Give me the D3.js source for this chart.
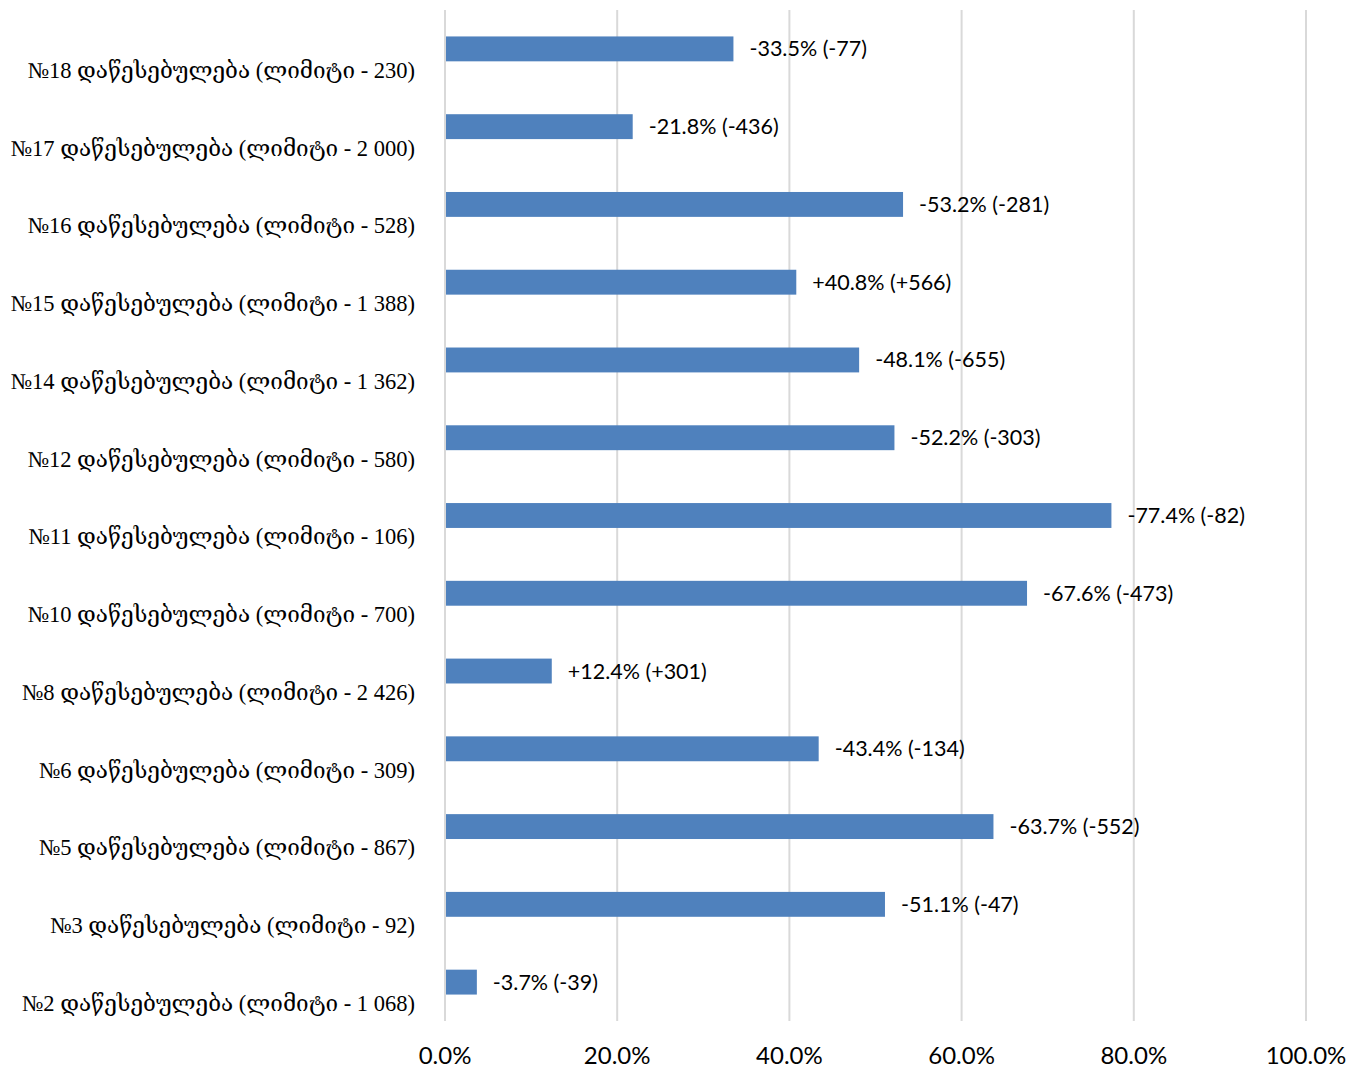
<!DOCTYPE html>
<html><head><meta charset="utf-8">
<script src="https://cdn.jsdelivr.net/npm/d3@7"></script>
<style>body{margin:0;background:#fff}</style>
</head><body>
<svg id="c" width="1365" height="1070"></svg>
<script>
const institutions = ["№18","№17","№16","№15","№14","№12","№11","№10","№8","№6","№5","№3","№2"];
const limits = [230, 2000, 528, 1388, 1362, 580, 106, 700, 2426, 309, 867, 92, 1068];
const changePct = [-33.5, -21.8, -53.2, 40.8, -48.1, -52.2, -77.4, -67.6, 12.4, -43.4, -63.7, -51.1, -3.7];
const changeCount = [-77, -436, -281, 566, -655, -303, -82, -473, 301, -134, -552, -47, -39];
const xTicks = [0, 20, 40, 60, 80, 100];

const fmtLimit = v => d3.format(",")(v).replace(/,/g, " ");
const sgn = v => (v > 0 ? "+" : "");
const cats = institutions.map((d, i) => `${d} დაწესებულება (ლიმიტი - ${fmtLimit(limits[i])})`);

const svg = d3.select("#c");
const pL = 445, pR = 1306, pT = 10, pB = 1021;
const x = d3.scaleLinear().domain([0, 100]).range([pL, pR]);
const y = d3.scaleBand().domain(cats).range([pT, pB]).paddingInner(0.68).paddingOuter(0.34);

svg.append("g").selectAll("line").data(xTicks).join("line")
  .attr("x1", d => x(d)).attr("x2", d => x(d))
  .attr("y1", pT).attr("y2", pB)
  .attr("stroke", "#d9d9d9").attr("stroke-width", 2);

svg.append("g").selectAll("rect").data(cats).join("rect")
  .attr("x", x(0) + 1)
  .attr("y", d => y(d))
  .attr("width", (d, i) => x(Math.abs(changePct[i])) - x(0) - 1)
  .attr("height", y.bandwidth())
  .attr("fill", "#4f81bd");

svg.append("g").selectAll("text").data(cats).join("text")
  .attr("x", (d, i) => x(Math.abs(changePct[i])) + 16)
  .attr("y", d => y(d) + y.bandwidth() / 2)
  .attr("dy", "0.35em")
  .attr("font-family", "Lato, 'Open Sans', sans-serif")
  .attr("font-size", 21.5)
  .attr("fill", "#000")
  .text((d, i) => `${sgn(changePct[i])}${changePct[i].toFixed(1)}% (${sgn(changeCount[i])}${changeCount[i]})`);

svg.append("g").selectAll("text").data(cats).join("text")
  .attr("x", 415)
  .attr("y", d => y(d) + y.bandwidth() / 2 + 21)
  .attr("dy", "0.35em")
  .attr("text-anchor", "end")
  .attr("font-family", "'Liberation Serif', 'DejaVu Serif', serif")
  .attr("font-size", 22.5)
  .attr("fill", "#000")
  .text(d => d);

svg.append("g").selectAll("text").data(xTicks).join("text")
  .attr("x", d => x(d))
  .attr("y", 1056)
  .attr("dy", "0.35em")
  .attr("text-anchor", "middle")
  .attr("font-family", "Lato, 'Open Sans', sans-serif")
  .attr("font-size", 24)
  .attr("fill", "#000")
  .text(d => d.toFixed(1) + "%");
</script>
</body></html>
